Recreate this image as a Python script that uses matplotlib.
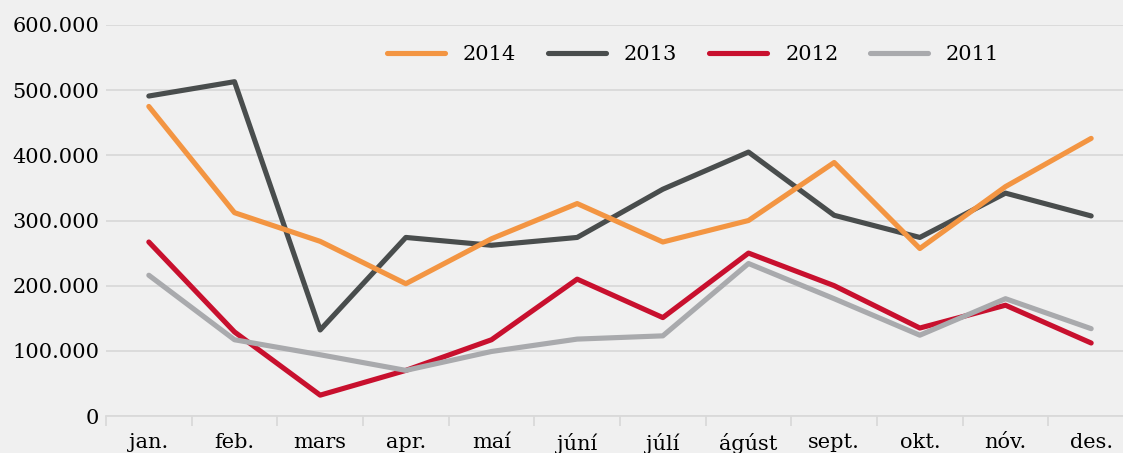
import numpy as np
import matplotlib
matplotlib.use("Agg")
import matplotlib.pyplot as plt

manudir = ['jan.', 'feb.', 'mars', 'apr.', 'maí', 'júní', 'júlí', 'ágúst', 'sept.', 'okt.', 'nóv.', 'des.']

ar_2014 = [475000, 312000, 268000, 203000, 272000, 326000, 267000, 300000, 389000, 257000, 352000, 426000]
ar_2013 = [491000, 513000, 132000, 274000, 262000, 274000, 348000, 405000, 308000, 274000, 342000, 307000]
ar_2012 = [267000, 129000, 32000, 70000, 117000, 210000, 151000, 250000, 200000, 135000, 170000, 112000]
ar_2011 = [216000, 117000, 94000, 70000, 99000, 118000, 123000, 234000, 180000, 124000, 180000, 134000]

litir = {'2014': '#F39542', '2013': '#494D4D', '2012': '#C8102E', '2011': '#A9AAAD'}

plt.rcParams['font.family'] = ['DejaVu Serif']

fig = plt.figure(figsize=(11.23, 4.53), dpi=100)
fig.patch.set_facecolor('#F0F0F0')
# asinn nær aðeins út fyrir myndina hægra megin, eins og í frumritinu
ax = fig.add_axes([106 / 1123, 1 - 416 / 453, 1028 / 1123, (416 - 25) / 453])
ax.set_facecolor('#F0F0F0')

x = np.arange(len(manudir))
lw = 3.7
# teikniröð: rautt og ljósgrátt neðst, appelsínugult efst
ax.plot(x, ar_2012, color=litir['2012'], lw=lw, solid_capstyle='round', zorder=3, label='2012')
ax.plot(x, ar_2011, color=litir['2011'], lw=lw, solid_capstyle='round', zorder=4, label='2011')
ax.plot(x, ar_2013, color=litir['2013'], lw=lw, solid_capstyle='round', zorder=5, label='2013')
ax.plot(x, ar_2014, color=litir['2014'], lw=lw, solid_capstyle='round', zorder=6, label='2014')

ax.set_xlim(-0.5, len(manudir) - 0.5)
ax.set_ylim(0, 600000)
ax.set_yticks(np.arange(0, 600001, 100000))
ax.set_yticklabels(['0'] + [f"{v // 1000}.000" for v in range(100000, 600001, 100000)])
ax.yaxis.grid(True, color='#D9D9D9', lw=1.3)
ax.set_axisbelow(True)

ax.set_xticks(x)
ax.set_xticklabels(manudir)
ax.set_xticks(np.arange(-0.5, len(manudir)), minor=True)
ax.tick_params(axis='x', which='major', length=0, pad=12, labelsize=15, colors='black')
ax.tick_params(axis='x', which='minor', length=7, width=1.3, color='#D9D9D9')
ax.tick_params(axis='y', length=0, pad=5, labelsize=15)

for s in ['top', 'right', 'left']:
    ax.spines[s].set_visible(False)
ax.spines['bottom'].set_color('#D9D9D9')
ax.spines['bottom'].set_linewidth(1.3)

handles, labels = ax.get_legend_handles_labels()
rod = ['2014', '2013', '2012', '2011']
handles = [handles[labels.index(r)] for r in rod]
fig.legend(handles, rod, loc='center', bbox_to_anchor=(693 / 1123, 1 - 55 / 453),
           ncol=4, frameon=False, fontsize=15, handlelength=2.8, handletextpad=0.87,
           columnspacing=1.5, borderpad=0)

fig.savefig('out.png', dpi=100, facecolor=fig.get_facecolor())
